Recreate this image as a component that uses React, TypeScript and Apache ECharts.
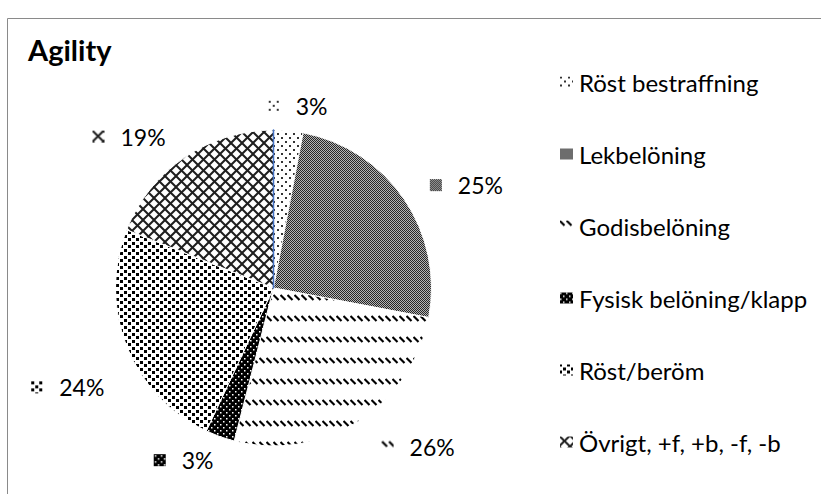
import React, { useEffect, useRef } from 'react';
import * as echarts from 'echarts';

const titleText = 'Agility';
const categories = [
  'Röst bestraffning',
  'Lekbelöning',
  'Godisbelöning',
  'Fysisk belöning/klapp',
  'Röst/beröm',
  'Övrigt, +f, +b, -f, -b',
];
const values = [3, 25, 26, 3, 24, 19];

type Tile = { w: number; h: number; bg: string; draw: (ctx: CanvasRenderingContext2D) => void };

const tiles: Tile[] = [
  // sparse dots
  {
    w: 8, h: 8, bg: '#ffffff',
    draw: (ctx) => {
      ctx.fillStyle = '#333';
      ctx.fillRect(1, 1, 2, 2);
      ctx.fillRect(5, 5, 2, 2);
    },
  },
  // fine checker
  {
    w: 2, h: 2, bg: '#b4b4b4',
    draw: (ctx) => {
      ctx.fillStyle = '#262626';
      ctx.fillRect(0, 0, 1, 1);
      ctx.fillRect(1, 1, 1, 1);
    },
  },
  // dashed downward diagonal rows
  {
    w: 7, h: 21, bg: '#ffffff',
    draw: (ctx) => {
      ctx.strokeStyle = '#000';
      ctx.lineWidth = 2.2;
      ctx.beginPath();
      ctx.moveTo(0.5, 1);
      ctx.lineTo(5.5, 6);
      ctx.stroke();
    },
  },
  // black with white dots
  {
    w: 6, h: 6, bg: '#000000',
    draw: (ctx) => {
      ctx.fillStyle = '#fff';
      ctx.fillRect(1, 1, 1.5, 1.5);
      ctx.fillRect(4, 4, 1.5, 1.5);
    },
  },
  // black squares on white
  {
    w: 8, h: 7, bg: '#ffffff',
    draw: (ctx) => {
      ctx.fillStyle = '#000';
      ctx.fillRect(0, 0, 3, 3);
      ctx.fillRect(4, 4, 3, 3);
    },
  },
  // diagonal crosshatch
  {
    w: 11, h: 11, bg: '#ffffff',
    draw: (ctx) => {
      ctx.strokeStyle = '#1e1e1e';
      ctx.lineWidth = 2;
      for (const o of [-11, 0, 11]) {
        ctx.beginPath();
        ctx.moveTo(o, 0);
        ctx.lineTo(o + 11, 11);
        ctx.stroke();
        ctx.beginPath();
        ctx.moveTo(o + 11, 0);
        ctx.lineTo(o, 11);
        ctx.stroke();
      }
    },
  },
];

function makeTile(t: Tile): HTMLCanvasElement {
  const c = document.createElement('canvas');
  c.width = t.w;
  c.height = t.h;
  const ctx = c.getContext('2d')!;
  ctx.fillStyle = t.bg;
  ctx.fillRect(0, 0, t.w, t.h);
  t.draw(ctx);
  return c;
}

function makeKey(tile: HTMLCanvasElement, w: number, h: number): string {
  const c = document.createElement('canvas');
  c.width = w;
  c.height = h;
  const ctx = c.getContext('2d')!;
  const pat = ctx.createPattern(tile, 'repeat');
  if (pat) {
    ctx.fillStyle = pat;
    ctx.fillRect(0, 0, w, h);
  }
  return c.toDataURL();
}

// small manual label nudges (Excel "best fit" placement differs from ECharts)
const labelNudge: Record<number, [number, number]> = {
  0: [-28, 0],
  2: [5, 4],
  3: [7, 0],
  4: [6, 32],
};

export default function App() {
  const ref = useRef<HTMLDivElement>(null);
  useEffect(() => {
    const el = ref.current!;
    const chart = echarts.init(el, null, { renderer: 'svg' });
    const tileCanvases = tiles.map(makeTile);
    const keyUrls = tileCanvases.map((c) => makeKey(c, 12, 12));

    const data: any[] = categories.map((name, i) => ({
      name,
      value: values[i],
      itemStyle: {
        color: {
          image: tileCanvases[i],
          repeat: 'repeat',
          imageWidth: tiles[i].w,
          imageHeight: tiles[i].h,
        },
      },
      label: {
        rich: {
          k: {
            backgroundColor: { image: keyUrls[i] },
            width: 12,
            height: 12,
            verticalAlign: 'middle',
          },
        },
      },
    }));
    data.push({
      name: '',
      value: 0,
      itemStyle: { color: 'rgba(0,0,0,0)', borderColor: '#4472C4', borderWidth: 1.5 },
      label: { show: false },
    });

    chart.setOption({
      animation: false,
      backgroundColor: '#ffffff',
      title: {
        text: titleText,
        left: 23,
        top: 30,
        textStyle: { fontFamily: 'Lato', fontWeight: 'bold', fontSize: 29, color: '#000' },
      },
      legend: {
        orient: 'vertical',
        left: 553,
        top: 65,
        itemWidth: 15,
        itemHeight: 13,
        itemGap: 48,
        icon: 'rect',
        selectedMode: false,
        data: categories,
        textStyle: { fontFamily: 'Lato', fontSize: 24, color: '#000', lineHeight: 24 },
      },
      graphic: [
        {
          type: 'rect',
          silent: true,
          z: -10,
          shape: { x: 7.5, y: 18.5, width: 1000, height: 1000 },
          style: { fill: 'none', stroke: '#8a8a8a', lineWidth: 1 },
        },
      ],
      series: [
        {
          type: 'pie',
          center: [273.5, 288],
          radius: 158,
          startAngle: 90,
          clockwise: true,
          avoidLabelOverlap: false,
          emphasis: { disabled: true },
          itemStyle: { borderColor: '#ffffff', borderWidth: 1 },
          label: {
            show: true,
            position: 'outside',
            distanceToLabelLine: 5,
            color: '#000',
            fontFamily: 'Lato',
            fontSize: 23,
            formatter: (p: any) => '{k|}{g|}{v|' + Math.round(p.percent) + '%}',
            rich: {
              g: { width: 16 },
              v: { fontFamily: 'Lato', fontSize: 23, color: '#000', verticalAlign: 'middle' },
            },
          },
          labelLine: { show: false, length: 25, length2: 0 },
          labelLayout: (params: any) => {
            const n = labelNudge[params.dataIndex];
            return n ? { dx: n[0], dy: n[1] } : {};
          },
          data,
        },
      ],
    });
    return () => chart.dispose();
  }, []);
  return (
    <div
      ref={ref}
      style={{ position: 'fixed', left: 0, top: 0, width: 821, height: 494 }}
    />
  );
}
